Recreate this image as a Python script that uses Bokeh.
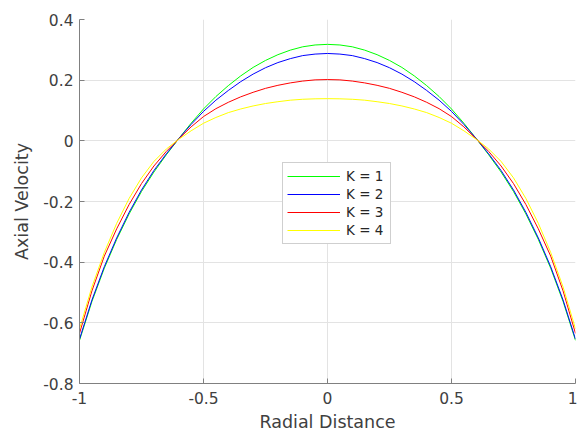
from bokeh.plotting import figure
from bokeh.models import Range1d, FixedTicker, CustomJSTickFormatter, Legend, LegendItem
from bokeh.embed import file_html
from bokeh.resources import INLINE

# ---- data ----
radial = [-1.0, -0.95, -0.9, -0.85, -0.8, -0.75, -0.7, -0.65, -0.6, -0.55, -0.5,
          -0.45, -0.4, -0.35, -0.3, -0.25, -0.2, -0.15, -0.1, -0.05, 0.0,
          0.05, 0.1, 0.15, 0.2, 0.25, 0.3, 0.35, 0.4, 0.45, 0.5,
          0.55, 0.6, 0.65, 0.7, 0.75, 0.8, 0.85, 0.9, 0.95, 1.0]
k1 = [-0.658, -0.530, -0.420, -0.325, -0.241, -0.167, -0.103, -0.046, 0.007, 0.058, 0.105,
      0.146, 0.182, 0.214, 0.242, 0.265, 0.284, 0.299, 0.310, 0.316, 0.318,
      0.316, 0.310, 0.299, 0.284, 0.265, 0.242, 0.214, 0.182, 0.146, 0.105,
      0.058, 0.007, -0.046, -0.103, -0.167, -0.241, -0.325, -0.420, -0.530, -0.658]
k2 = [-0.654, -0.525, -0.415, -0.320, -0.236, -0.162, -0.098, -0.043, 0.007, 0.054, 0.097,
      0.134, 0.166, 0.195, 0.220, 0.241, 0.258, 0.271, 0.281, 0.286, 0.288,
      0.286, 0.281, 0.271, 0.258, 0.241, 0.220, 0.195, 0.166, 0.134, 0.097,
      0.054, 0.007, -0.043, -0.098, -0.162, -0.236, -0.320, -0.415, -0.525, -0.654]
k3 = [-0.635, -0.495, -0.380, -0.290, -0.210, -0.141, -0.083, -0.035, 0.006, 0.046, 0.080,
      0.106, 0.127, 0.145, 0.160, 0.173, 0.183, 0.191, 0.197, 0.201, 0.202,
      0.201, 0.197, 0.191, 0.183, 0.173, 0.160, 0.145, 0.127, 0.106, 0.080,
      0.046, 0.006, -0.035, -0.083, -0.141, -0.210, -0.290, -0.380, -0.495, -0.635]
k4 = [-0.620, -0.482, -0.368, -0.272, -0.190, -0.122, -0.068, -0.027, 0.005, 0.033, 0.058,
      0.077, 0.093, 0.105, 0.115, 0.123, 0.129, 0.134, 0.137, 0.1385, 0.139,
      0.1385, 0.137, 0.134, 0.129, 0.123, 0.115, 0.105, 0.093, 0.077, 0.058,
      0.033, 0.005, -0.027, -0.068, -0.122, -0.190, -0.272, -0.368, -0.482, -0.620]
series_labels = ["K = 1", "K = 2", "K = 3", "K = 4"]
series_colors = ["#00ff00", "#0000ff", "#ff0000", "#ffff00"]
x_ticks = [-1, -0.5, 0, 0.5, 1]
y_ticks = [-0.8, -0.6, -0.4, -0.2, 0, 0.2, 0.4]

FONT = "DejaVu Sans"

p = figure(width=577, height=438, output_backend="svg", toolbar_location=None,
           x_range=Range1d(-1, 1), y_range=Range1d(-0.8, 0.4),
           min_border_left=79, min_border_right=2, min_border_top=19, min_border_bottom=55)
p.outline_line_color = None
p.background_fill_color = "white"
p.border_fill_color = "white"

fmt = CustomJSTickFormatter(code="return String(Math.round(tick*10)/10);")
for ax, ticks in ((p.xaxis[0], x_ticks), (p.yaxis[0], y_ticks)):
    ax.ticker = FixedTicker(ticks=ticks)
    ax.formatter = fmt
    ax.major_tick_in = 5
    ax.major_tick_out = 0
    ax.minor_tick_line_color = None
    ax.axis_line_color = "#808080"
    ax.major_tick_line_color = "#808080"
    ax.major_label_text_font = FONT
    ax.major_label_text_font_size = "15.5px"
    ax.major_label_text_color = "#404040"
    ax.axis_label_text_font = FONT
    ax.axis_label_text_font_size = "17.5px"
    ax.axis_label_text_font_style = "normal"
    ax.axis_label_text_color = "#404040"

p.xaxis.axis_label = "Radial Distance"
p.yaxis.axis_label = "Axial Velocity"
p.xaxis.major_label_standoff = 8
p.xaxis.axis_label_standoff = 5
p.yaxis.major_label_standoff = 6
p.yaxis.axis_label_standoff = 8

p.xgrid.ticker = FixedTicker(ticks=x_ticks)
p.ygrid.ticker = FixedTicker(ticks=y_ticks)
p.grid.grid_line_color = "#e3e3e3"
p.grid.grid_line_width = 1

items = []
for ys, lab, col in zip([k1, k2, k3, k4], series_labels, series_colors):
    r = p.line(radial, ys, line_color=col, line_width=1)
    items.append(LegendItem(label=lab, renderers=[r]))

legend = Legend(items=items, location=(203, 139))
legend.label_text_font = FONT
legend.label_text_font_size = "13.5px"
legend.label_text_color = "#262626"
legend.glyph_width = 53
legend.glyph_height = 18
legend.label_height = 18
legend.label_width = 40
legend.label_standoff = 6
legend.padding = 4
legend.spacing = 0
legend.margin = 0
legend.border_line_color = "#a0a0a0"
legend.border_line_width = 1
legend.background_fill_color = "white"
legend.background_fill_alpha = 1
p.add_layout(legend, "center")

open("out.html", "w").write(file_html(p, INLINE))
